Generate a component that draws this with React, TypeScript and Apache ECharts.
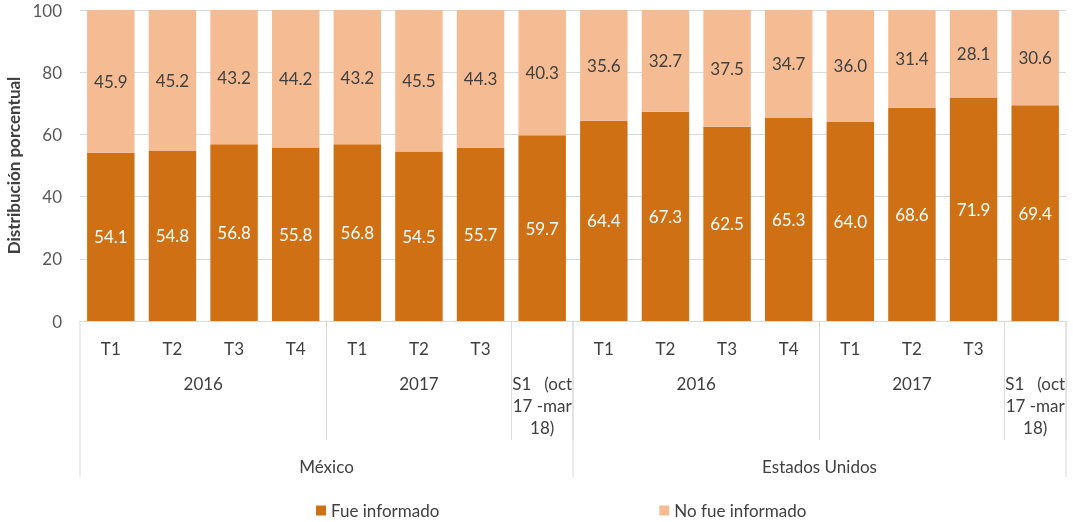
import React, { useEffect, useRef } from "react";
import * as echarts from "echarts";

const quarters = ["T1", "T2", "T3", "T4", "T1", "T2", "T3", "", "T1", "T2", "T3", "T4", "T1", "T2", "T3", ""];
const fueInformado = [54.1, 54.8, 56.8, 55.8, 56.8, 54.5, 55.7, 59.7, 64.4, 67.3, 62.5, 65.3, 64.0, 68.6, 71.9, 69.4];
const noFueInformado = [45.9, 45.2, 43.2, 44.2, 43.2, 45.5, 44.3, 40.3, 35.6, 32.7, 37.5, 34.7, 36.0, 31.4, 28.1, 30.6];
const yearGroups = [
  { label: "2016", span: 4 },
  { label: "2017", span: 3 },
  { label: "S1   (oct\n17 -mar\n18)", span: 1 },
  { label: "2016", span: 4 },
  { label: "2017", span: 3 },
  { label: "S1   (oct\n17 -mar\n18)", span: 1 },
];
const countries = [
  { label: "México", span: 8 },
  { label: "Estados Unidos", span: 8 },
];
const yTicks = { min: 0, max: 100, interval: 20 };

const FONT = "Lato, 'Open Sans', sans-serif";
const FS = 17;
const TXT = "#404040";
const LINE = "#d9d9d9";

export default function App() {
  const ref = useRef<HTMLDivElement>(null);
  useEffect(() => {
    if (!ref.current) return;
    const chart = echarts.init(ref.current, null, { renderer: "svg" });
    chart.setOption({
      animation: false,
      textStyle: { fontFamily: FONT },
      grid: { left: 80, right: 7, top: 10, bottom: 201, containLabel: false, outerBoundsMode: "none" },
      legend: {
        top: 497,
        left: 311,
        itemWidth: 10,
        itemHeight: 10,
        itemGap: 220,
        icon: "rect",
        textStyle: { fontSize: FS, color: TXT, fontFamily: FONT },
        data: ["Fue informado", "No fue informado"],
      },
      xAxis: {
        type: "category",
        data: quarters.map((q, i) => i),
        axisLabel: { show: false },
        axisTick: { show: false },
        axisLine: { lineStyle: { color: LINE } },
      },
      yAxis: {
        type: "value",
        min: yTicks.min,
        max: yTicks.max,
        interval: yTicks.interval,
        name: "Distribución porcentual",
        nameLocation: "middle",
        nameGap: 55,
        nameTextStyle: { fontSize: 17, fontWeight: "bold", color: TXT, fontFamily: FONT },
        axisLabel: { fontSize: FS, color: "#595959", margin: 18 },
        axisLine: { show: false },
        axisTick: { show: false },
        splitLine: { lineStyle: { color: LINE } },
      },
      series: [
        {
          name: "Fue informado",
          type: "bar",
          stack: "t",
          data: fueInformado,
          barCategoryGap: "23%",
          itemStyle: { color: "#d07014" },
          label: { show: true, position: "inside", color: "#ffffff", fontSize: FS, formatter: (p: any) => p.value.toFixed(1) },
        },
        {
          name: "No fue informado",
          type: "bar",
          stack: "t",
          data: noFueInformado,
          itemStyle: { color: "#f5bc94" },
          label: { show: true, position: "inside", color: TXT, fontSize: FS, formatter: (p: any) => p.value.toFixed(1) },
        },
      ],
    });

    const cx = (i: number) => chart.convertToPixel({ xAxisIndex: 0 }, i) as number;
    const band = cx(1) - cx(0);
    const left = (i: number) => cx(i) - band / 2;
    const y0 = chart.convertToPixel({ yAxisIndex: 0 }, 0) as number;
    const els: any[] = [];
    const text = (x: number, y: number, t: string) =>
      els.push({
        type: "text",
        x,
        y,
        style: { text: t, fill: TXT, fontSize: FS, fontFamily: FONT, align: "center", verticalAlign: "middle", lineHeight: 22 },
      });
    const vline = (x: number, y2: number) =>
      els.push({ type: "line", shape: { x1: x, y1: y0, x2: x, y2 }, style: { stroke: LINE, lineWidth: 1 } });

    quarters.forEach((q, i) => { if (q) text(cx(i), y0 + 27, q); });
    let idx = 0;
    yearGroups.forEach((g) => {
      const x1 = left(idx);
      const x2 = left(idx + g.span);
      const multi = g.label.includes("\n");
      text((x1 + x2) / 2, multi ? y0 + 84 : y0 + 62, g.label);
      vline(x2, y0 + 119);
      idx += g.span;
    });
    idx = 0;
    vline(left(0), y0 + 156);
    countries.forEach((c) => {
      const x1 = left(idx);
      const x2 = left(idx + c.span);
      text((x1 + x2) / 2, y0 + 145, c.label);
      vline(x2, y0 + 156);
      idx += c.span;
    });
    chart.setOption({ graphic: { elements: els } });
    return () => chart.dispose();
  }, []);
  return <div ref={ref} style={{ position: "fixed", left: 0, top: 0, width: 1073, height: 522 }} />;
}
